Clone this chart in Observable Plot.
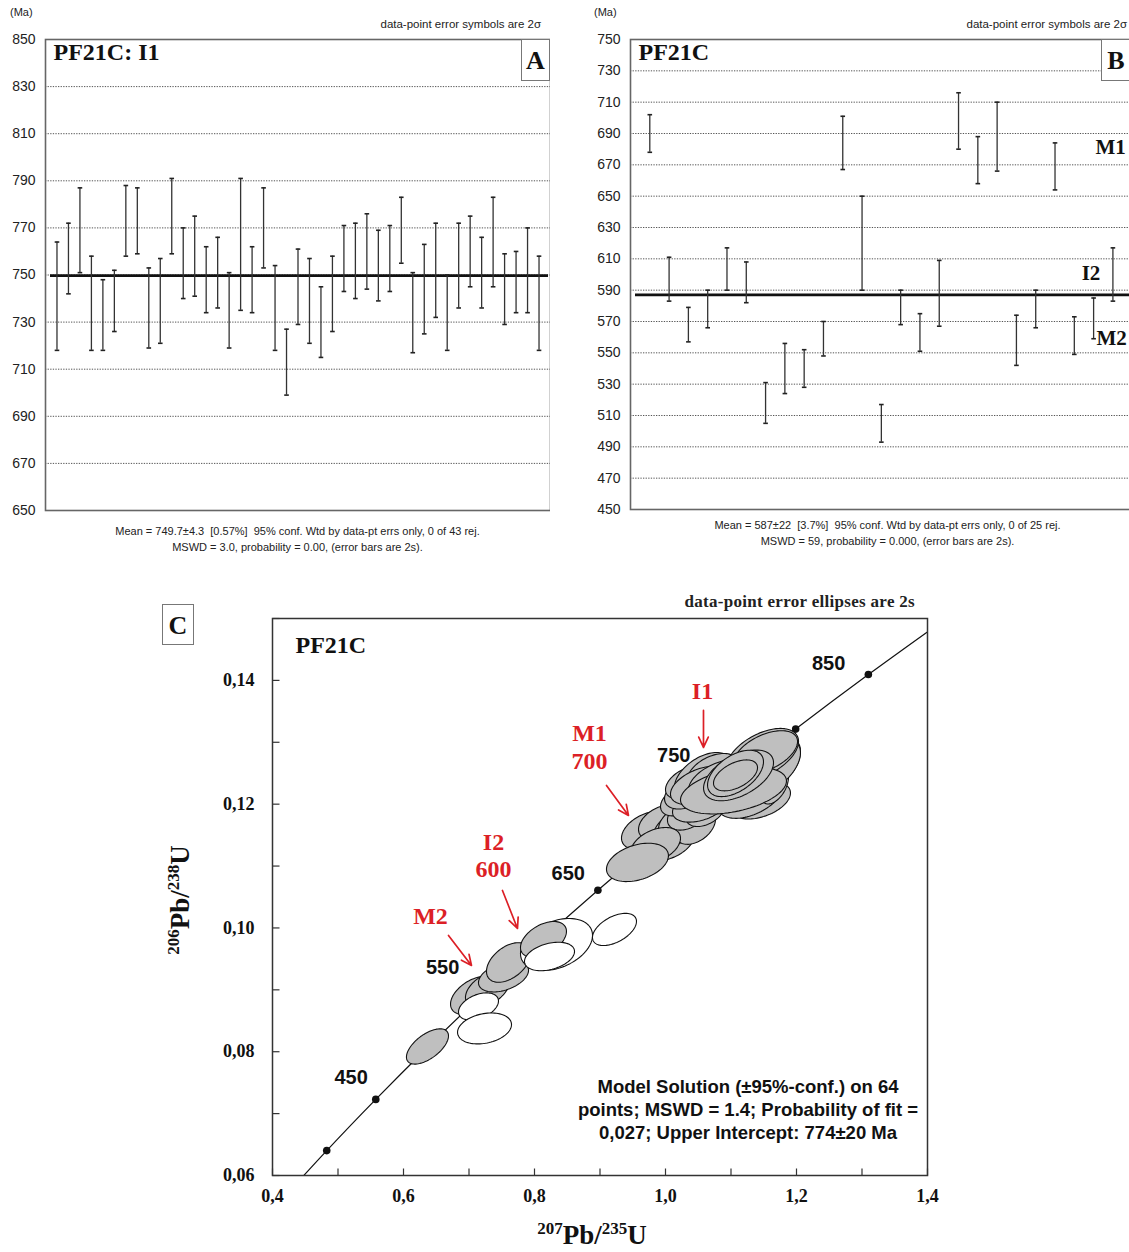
<!DOCTYPE html>
<html><head><meta charset="utf-8">
<script src="https://cdn.jsdelivr.net/npm/d3@7"></script>
<script src="https://cdn.jsdelivr.net/npm/@observablehq/plot@0.6"></script>
<style>
html,body{margin:0;padding:0;background:#fff;overflow:hidden}
#root{position:relative;width:1129px;height:1252px;overflow:hidden;font-family:"Liberation Sans",Arial,sans-serif;color:#222;background:#fff}
#root svg{position:absolute}
.t{position:absolute;white-space:nowrap}
.box{position:absolute;border:1.5px solid #777;background:#fff;font-family:"Liberation Serif",serif;font-weight:bold;text-align:center;box-sizing:border-box;color:#111}
.sup{font-size:17px;position:relative;top:-10px}
</style></head><body><div id="root"></div>
<script>
// ---------- Panel A data (Ma, 2σ error bar ends) ----------
const A_hi = [764,772,787,758,748,752,788,787,753,757,791,770,775,762,766,751,791,762,787,754,727,761,757,745,758,771,772,776,769,771,783,751,763,772,750,772,775,766,783,759,760,770,758];
const A_lo = [718,742,751,718,718,726,758,759,719,721,759,740,741,734,736,719,735,734,753,718,699,729,721,715,726,743,740,744,739,743,755,717,725,732,718,736,745,736,745,729,734,734,718];
const A_mean = 749.7;
const A_ticks = [650,670,690,710,730,750,770,790,810,830,850];

// ---------- Panel B data ----------
const B_hi = [702,611,579,590,617,608,531,556,552,570,701,650,517,590,575,609,716,688,710,574,590,684,573,585,617];
const B_lo = [678,583,557,566,590,582,505,524,528,548,667,590,493,568,551,567,680,658,666,542,566,654,549,559,583];
const B_mean = 587;
const B_ticks = [450,470,490,510,530,550,570,590,610,630,650,670,690,710,730,750];
const B_labText = ["M1","I2","M2"];
const B_labX = [24.1, 23.38, 24.15];
const B_labY = [681, 601, 559];

// ---------- Panel C data ----------
// concordia nodes (age Ma, 207Pb/235U, 206Pb/238U)
const concAge  = [350, 400, 450, 500, 550, 600, 650, 700, 750, 800, 850, 900];
const concR207 = [0.41156,0.48281,0.55766,0.63628,0.71887,0.80563,0.89677,0.99251,1.09308,1.19873,1.30971,1.42629];
const concR206 = [0.05580,0.06402,0.07230,0.08065,0.08906,0.09754,0.10609,0.11470,0.12338,0.13213,0.14094,0.14983];
const concLabelAges = [450, 550, 650, 750, 850];
// error ellipses: centre, 2s half-widths, correlation, filled (1 grey / 0 open)
const ellX   = [0.6366,0.7084,0.7282,0.7527,0.7603,0.7145,0.7237,0.8336,0.8137,0.8229,0.9221,
                0.9725,1.0030,0.9924,1.0153,1.0260,1.0458,1.0351,1.0611,0.9847,0.9572,
                1.0229,1.0534,1.1450,1.0382,1.0321,1.0565,1.0718,1.0534,1.0840,1.1298,1.1664,1.1832,1.1679,1.1481,1.1527,1.1038,1.1115,1.1069,1.1069];
const ellY   = [0.08085,0.08909,0.09006,0.09216,0.09442,0.08731,0.08376,0.09733,0.09814,0.09539,0.09976,
                0.11576,0.11382,0.11705,0.11608,0.11721,0.11641,0.11851,0.11899,0.11333,0.11059,
                0.12061,0.11980,0.12061,0.12222,0.12352,0.12465,0.12529,0.12303,0.12384,0.12141,0.12303,0.12707,0.12626,0.12804,0.12837,0.12222,0.12465,0.12497,0.12465];
const ellSx  = [0.0321,0.0366,0.0336,0.0382,0.0336,0.0305,0.0412,0.0550,0.0351,0.0382,0.0336,
                0.0397,0.0412,0.0336,0.0336,0.0366,0.0305,0.0321,0.0305,0.0382,0.0473,
                0.0305,0.0427,0.0458,0.0397,0.0321,0.0427,0.0382,0.0458,0.0489,0.0504,0.0214,0.0229,0.0382,0.0550,0.0489,0.0809,0.0534,0.0427,0.0336];
const ellSy  = [0.00285,0.00310,0.00290,0.00250,0.00320,0.00220,0.00250,0.00420,0.00290,0.00230,0.00260,
                0.00310,0.00300,0.00280,0.00290,0.00300,0.00290,0.00270,0.00260,0.00290,0.00310,
                0.00250,0.00270,0.00300,0.00300,0.00260,0.00370,0.00290,0.00310,0.00340,0.00370,0.00300,0.00330,0.00410,0.00420,0.00350,0.00380,0.00410,0.00375,0.00250];
const ellRho = [0.6,0.45,0.45,0.4,0.45,0.4,0.25,0.35,0.45,0.35,0.5,
                0.4,0.4,0.4,0.4,0.4,0.4,0.4,0.4,0.4,0.35,
                0.4,0.4,0.4,0.45,0.45,0.5,0.45,0.45,0.45,0.45,0.45,0.45,0.5,0.5,0.5,0.4,0.5,0.5,0.5];
const ellFilled = [1,1,1,1,1,0,0,0,1,0,0,
                   1,1,1,1,1,1,1,1,1,1,
                   1,1,1,1,1,1,1,1,1,1,1,1,1,1,1,1,1,1,1];
// group annotations
const grpText = ["I1","M1","700","I2","600","M2"];
const grpX = [1.0565,0.8840,0.8840,0.7374,0.7374,0.6412];
const grpY = [0.13822,0.13144,0.12691,0.11382,0.10946,0.10186];
const arrX1 = [1.0580,0.9099,0.7511,0.6687];
const arrY1 = [0.13515,0.12303,0.10606,0.09879];
const arrX2 = [1.0580,0.9435,0.7740,0.7038];
const arrY2 = [0.12917,0.11818,0.09992,0.09394];
const cXTicks = [0.4,0.6,0.8,1.0,1.2,1.4];
const cXMinor = [0.4,0.5,0.6,0.7,0.8,0.9,1.0,1.1,1.2,1.3,1.4];
const cYTicks = [0.06,0.08,0.10,0.12,0.14];
const cYMinor = [0.06,0.07,0.08,0.09,0.10,0.11,0.12,0.13,0.14,0.15];

const root = document.getElementById("root");
function put(el, left, top){ el.style.left = left+"px"; el.style.top = top+"px"; root.appendChild(el); return el; }
function txt(html, css){ const d = document.createElement("div"); d.className = "t"; d.innerHTML = html; d.style.cssText += css; root.appendChild(d); return d; }

const SERIF = '"Liberation Serif","Times New Roman",serif';
const SANS = '"Liberation Sans",Arial,sans-serif';
const capSym = {draw(ctx, size){ const w = Math.sqrt(size/Math.PI); ctx.moveTo(-w,0); ctx.lineTo(w,0); }};

function errorPanel(lo, hi, mean, ticks, width, xMax, mb, title, extra){
  const rows = lo.map((v,i)=>({idx:i+1, lo:v, hi:hi[i]}));
  return Plot.plot({
    width, height: 520, marginLeft: 45, marginRight: 0, marginTop: 39, marginBottom: mb,
    x: {domain:[0,xMax], axis:null},
    y: {domain:[ticks[0], ticks[ticks.length-1]], ticks, tickSize:0, tickPadding:10, label:null},
    style: {fontFamily: SANS, fontSize:"14px", color:"#222", background:"white"},
    marks: [
      Plot.ruleY(ticks, {stroke:"#555", strokeDasharray:"1.3,1.3", strokeWidth:1}),
      Plot.ruleY([mean], {stroke:"#111", strokeWidth:2.8, insetLeft:5, insetRight:2}),
      Plot.ruleX(rows, {x:"idx", y1:"lo", y2:"hi", stroke:"#333", strokeWidth:1.3}),
      Plot.dot(rows, {x:"idx", y:"lo", symbol:capSym, r:2.3, fill:"none", stroke:"#222", strokeWidth:1.6}),
      Plot.dot(rows, {x:"idx", y:"hi", symbol:capSym, r:2.3, fill:"none", stroke:"#222", strokeWidth:1.6}),
      Plot.frame({stroke:"#666", strokeWidth:1.6}),
      Plot.text([title], {frameAnchor:"top-left", dx:8, dy:13, lineAnchor:"middle", textAnchor:"start", fontFamily:SERIF, fontWeight:"bold", fontSize:24, fill:"#111"}),
      ...extra
    ]
  });
}

// Panel A
put(errorPanel(A_lo, A_hi, A_mean, A_ticks, 550, 44, 10, "PF21C: I1", []), 0, 0);
// Panel B
const bLab = B_labText.map((t,i)=>({t, x:B_labX[i], y:B_labY[i]}));
put(errorPanel(B_lo, B_hi, B_mean, B_ticks, 566, 27, 11, "PF21C", [
  Plot.text(bLab, {x:"x", y:"y", text:"t", textAnchor:"start", lineAnchor:"middle", fontFamily:SERIF, fontWeight:"bold", fontSize:21, fill:"#111"})
]), 585, 0);

// Panel C
const conc = concAge.map((a,i)=>({age:a, x:concR207[i], y:concR206[i]}));
const concDots = conc.filter(d => d.age >= 400 && d.age <= 850);
const ellRows = [];
ellX.forEach((cx,k)=>{
  const sx = ellSx[k], sy = ellSy[k], rho = ellRho[k], q = Math.sqrt(1-rho*rho);
  for(let j=0;j<90;j++){
    const t = 2*Math.PI*j/90;
    ellRows.push({k, x: cx + sx*Math.cos(t), y: ellY[k] + sy*(rho*Math.cos(t) + q*Math.sin(t)), fill: ellFilled[k] ? "#bfbfbf" : "#ffffff"});
  }
});
const lblOff = {450:[-8,-22], 550:[-22,-28], 650:[-13,-17], 750:[-36,-28], 850:[-23,-11]};
const concLabelMarks = concLabelAges.map(a => Plot.text(conc.filter(d=>d.age===a), {x:"x", y:"y", text:d=>String(d.age), textAnchor:"end", lineAnchor:"middle", dx:lblOff[a][0], dy:lblOff[a][1], fontFamily:SANS, fontWeight:"bold", fontSize:20, fill:"#111"}));
const grp = grpText.map((t,i)=>({t, x:grpX[i], y:grpY[i]}));
const arr = arrX1.map((v,i)=>({x1:v, y1:arrY1[i], x2:arrX2[i], y2:arrY2[i]}));
const tickUp = {draw(ctx){ ctx.moveTo(0,0); ctx.lineTo(0,-7); }};
const tickRight = {draw(ctx){ ctx.moveTo(0,0); ctx.lineTo(7,0); }};
const RED = "#dc1f26";

put(Plot.plot({
  width: 800, height: 662, marginLeft: 112, marginRight: 33, marginTop: 28, marginBottom: 77,
  color: {type:"identity"},
  x: {domain:[0.4,1.4], ticks:cXTicks, tickFormat: d => d.toFixed(1).replace(".", ","), tickSize:0, tickPadding:14, label:null},
  y: {domain:[0.06,0.15], ticks:cYTicks, tickFormat: d => d.toFixed(2).replace(".", ","), tickSize:0, tickPadding:18, label:null},
  style: {fontFamily: SERIF, fontSize:"18px", fontWeight:"bold", color:"#111", background:"white"},
  marks: [
    Plot.dot(cXMinor, {x:d=>d, frameAnchor:"bottom", symbol:tickUp, fill:"none", stroke:"#333", strokeWidth:1.2}),
    Plot.dot(cYMinor, {y:d=>d, frameAnchor:"left", symbol:tickRight, fill:"none", stroke:"#333", strokeWidth:1.2}),
    Plot.line(conc, {x:"x", y:"y", curve:"natural", stroke:"#111", strokeWidth:1.2, clip:true}),
    Plot.dot(concDots, {x:"x", y:"y", r:3.8, fill:"#111"}),
    Plot.line(ellRows, {x:"x", y:"y", z:"k", fill:"fill", stroke:"#111", strokeWidth:1.1, curve:"linear-closed"}),
    ...concLabelMarks,
    Plot.arrow(arr, {x1:"x1", y1:"y1", x2:"x2", y2:"y2", stroke:RED, strokeWidth:1.7, headLength:10, headAngle:50}),
    Plot.text(grp, {x:"x", y:"y", text:"t", lineAnchor:"middle", fontFamily:SERIF, fontWeight:"bold", fontSize:24, fill:RED}),
    Plot.frame({stroke:"#333", strokeWidth:1.5}),
    Plot.text(["PF21C"], {frameAnchor:"top-left", dx:23, dy:27, textAnchor:"start", lineAnchor:"middle", fontFamily:SERIF, fontWeight:"bold", fontSize:24, fill:"#111"})
  ]
}), 160, 590);

// ---------- surrounding text ----------
txt("(Ma)", `left:10px;top:6px;font-size:11px;`);
txt("(Ma)", `left:594px;top:6px;font-size:11px;`);
txt("data-point error symbols are 2σ", `right:${1129-541}px;top:18px;font-size:11.5px;`);
txt("data-point error symbols are 2σ", `right:2px;top:18px;font-size:11.5px;`);
txt("Mean = 749.7±4.3&nbsp; [0.57%]&nbsp; 95% conf. Wtd by data-pt errs only, 0 of 43 rej.<br>MSWD = 3.0, probability = 0.00, (error bars are 2s).", `left:45px;width:505px;top:524px;text-align:center;font-size:11px;line-height:15.5px;`);
txt("Mean = 587±22&nbsp; [3.7%]&nbsp; 95% conf. Wtd by data-pt errs only, 0 of 25 rej.<br>MSWD = 59, probability = 0.000, (error bars are 2s).", `left:630px;width:515px;top:518px;text-align:center;font-size:11px;line-height:15.5px;`);

function box(letter, l, t, w, h, fs){ const d = document.createElement("div"); d.className="box"; d.textContent = letter; d.style.cssText += `left:${l}px;top:${t}px;width:${w}px;height:${h}px;font-size:${fs}px;line-height:${h}px;`; root.appendChild(d); }
box("A", 521, 39, 29, 42, 26);
box("B", 1101, 39, 30, 42, 26);
box("C", 162, 604, 32, 41, 26);

txt("data-point error ellipses are 2s", `right:${1129-915}px;top:592px;font-family:${SERIF};font-weight:bold;font-size:17px;letter-spacing:0.3px;`);
txt("Model Solution (±95%-conf.) on 64<br>points; MSWD = 1.4; Probability of fit =<br>0,027; Upper Intercept: 774±20 Ma", `left:538px;width:420px;top:1075px;text-align:center;font-family:${SANS};font-weight:bold;font-size:18.5px;line-height:23px;color:#111;`);
txt(`<span class="sup">207</span>Pb/<span class="sup">235</span>U`, `left:492px;width:200px;top:1220px;height:30px;text-align:center;font-family:${SERIF};font-weight:bold;font-size:27px;line-height:30px;color:#111;`);
txt(`<span class="sup">206</span>Pb/<span class="sup">238</span>U`, `left:81px;width:200px;top:884px;height:32px;text-align:center;font-family:${SERIF};font-weight:bold;font-size:27px;line-height:normal;color:#111;transform:rotate(-90deg);transform-origin:100px 16px;`);
</script></body></html>
